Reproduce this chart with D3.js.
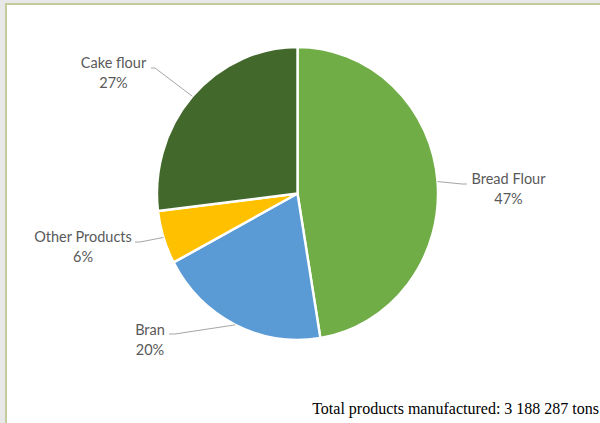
<!DOCTYPE html>
<html>
<head>
<meta charset="utf-8">
<script src="https://cdn.jsdelivr.net/npm/d3@7"></script>
<style>
  html, body { margin: 0; padding: 0; background: #e8e8e8; }
  svg { display: block; }
</style>
</head>
<body>
<svg id="chart" width="600" height="423"></svg>
<script>
// ---- data ----
const categories = ["Bread Flour", "Bran", "Other Products", "Cake flour"];
const values = [47.4, 19.8, 5.9, 26.9];
const percentLabels = ["47%", "20%", "6%", "27%"];
const colors = ["#70AD47", "#5B9BD5", "#FFC000", "#43682B"];
const footnote = "Total products manufactured: 3 188 287 tons";

// ---- layout ----
const W = 600, H = 423;
const cx = 297.5, cy = 193.5, rx = 140.5, ry = 146.5;
// label block placements (center x, first baseline y) and elbow points
const labelLayout = {
  "Bread Flour":    { x: 508.5, y: 184, elbow: [462, 184], end: [467, 184] },
  "Bran":           { x: 150,   y: 335, elbow: [175, 334], end: [169, 334] },
  "Other Products": { x: 83,    y: 242, elbow: [140, 242], end: [135, 242] },
  "Cake flour":     { x: 113.5, y: 68,  elbow: [155, 68],  end: [151, 68] }
};

const svg = d3.select("#chart");

// frame
svg.append("rect").attr("x", 0).attr("y", 0).attr("width", W).attr("height", H).attr("fill", "#e8e8e8");
svg.append("rect").attr("x", 6).attr("y", 4).attr("width", W + 20).attr("height", H + 20)
  .attr("fill", "#ffffff").attr("stroke", "#c3cc9c").attr("stroke-width", 2);

const data = categories.map((c, i) => ({ name: c, value: values[i], label: percentLabels[i], color: colors[i] }));

const pie = d3.pie().value(d => d.value).sort(null);
const arcs = pie(data);

const r = rx;
const arc = d3.arc().innerRadius(0).outerRadius(r);

const g = svg.append("g")
  .attr("transform", `translate(${cx},${cy}) scale(1,${ry / rx})`);

g.selectAll("path.slice")
  .data(arcs)
  .enter().append("path")
  .attr("class", "slice")
  .attr("d", arc)
  .attr("fill", d => d.data.color)
  .attr("stroke", "#ffffff")
  .attr("stroke-width", 2.4)
  .attr("stroke-linejoin", "round");

// leader lines
arcs.forEach(a => {
  const mid = (a.startAngle + a.endAngle) / 2;
  const ex = cx + rx * Math.sin(mid);
  const ey = cy - ry * Math.cos(mid);
  const L = labelLayout[a.data.name];
  const line = d3.line();
  svg.append("path")
    .attr("d", line([[ex, ey], L.elbow, L.end]))
    .attr("fill", "none")
    .attr("stroke", "#a6a6a6")
    .attr("stroke-width", 1);
});

// labels
arcs.forEach(a => {
  const L = labelLayout[a.data.name];
  const t = svg.append("text")
    .attr("x", L.x).attr("y", L.y)
    .attr("text-anchor", "middle")
    .attr("font-family", "Lato, 'Open Sans', sans-serif")
    .attr("font-size", 14.5)
    .attr("fill", "#595959");
  t.append("tspan").attr("x", L.x).attr("y", L.y).text(a.data.name);
  t.append("tspan").attr("x", L.x).attr("y", L.y + 20).text(a.data.label);
});

// footnote
svg.append("text")
  .attr("x", 599).attr("y", 414)
  .attr("text-anchor", "end")
  .attr("font-family", "'Liberation Serif', 'DejaVu Serif', serif")
  .attr("font-size", 16)
  .attr("fill", "#000000")
  .text(footnote);
</script>
</body>
</html>
